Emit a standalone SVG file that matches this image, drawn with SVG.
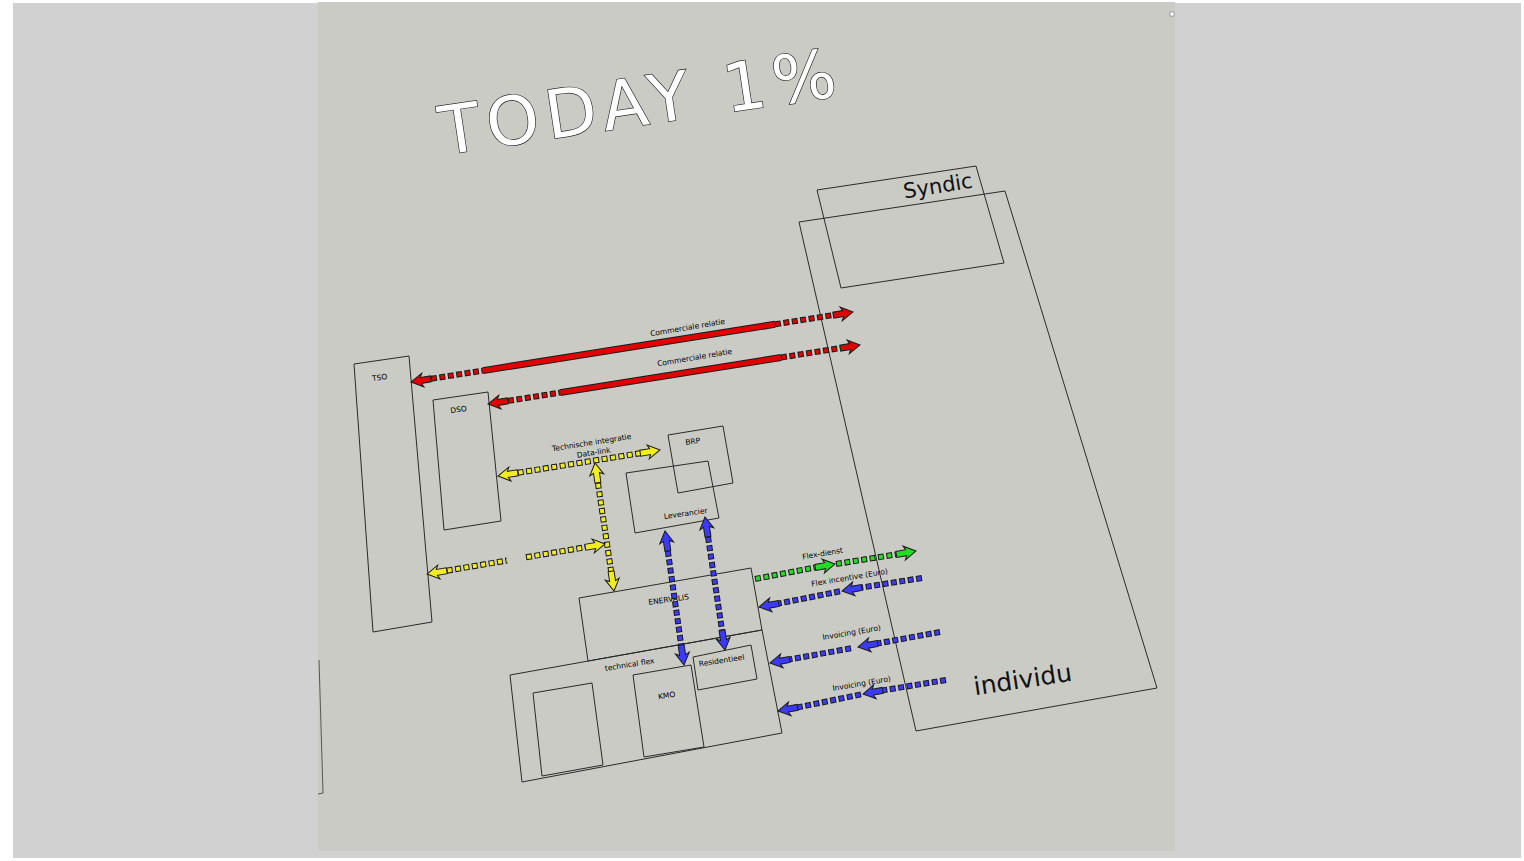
<svg xmlns="http://www.w3.org/2000/svg" xmlns:xlink="http://www.w3.org/1999/xlink" width="1524" height="861" viewBox="0 0 1524 861">
<style>
.box{fill:none;stroke:#2a2a2a;stroke-width:1}
.s{font-family:"DejaVu Sans",sans-serif;font-size:7.5px;fill:#000;text-anchor:middle}
.dk{stroke:#1a1a1a;stroke-width:6;stroke-dasharray:6 2.5;fill:none}
.dr{stroke:#e00000;stroke-width:4;stroke-dasharray:4 4.5;stroke-dashoffset:-1;fill:none}
.dy{stroke:#f2ee1e;stroke-width:4;stroke-dasharray:4 4.5;stroke-dashoffset:-1;fill:none}
.db{stroke:#3b3bff;stroke-width:4;stroke-dasharray:4 4.5;stroke-dashoffset:-1;fill:none}
.dg{stroke:#22dd22;stroke-width:4;stroke-dasharray:4 4.5;stroke-dashoffset:-1;fill:none}
.sk{stroke:#1a1a1a;stroke-width:7;fill:none}
.sr{stroke:#e00000;stroke-width:5;fill:none}
.hr{fill:#e00000;stroke:#1a1a1a;stroke-width:1}
.hy{fill:#f2ee1e;stroke:#1a1a1a;stroke-width:1}
.hb{fill:#3b3bff;stroke:#1a1a1a;stroke-width:1}
.hg{fill:#22dd22;stroke:#1a1a1a;stroke-width:1}
</style>
<defs>
<path id="head" d="M0,0 L-12,-7 L-10,-3 L-20,-3 L-20,3 L-10,3 L-12,7 Z"/>
</defs>
<rect width="1524" height="861" fill="#ffffff"/>
<rect x="13" y="3" width="1508" height="855" fill="#d1d1d1"/>
<rect x="318" y="2" width="857" height="849" fill="#cbcbc6"/>
<polyline points="319,660 323,793 318,794" fill="none" stroke="#555" stroke-width="1"/>
<rect x="1170" y="12" width="4" height="4" fill="#fff" stroke="#777" stroke-width="0.6"/>

<g id="title">
<text transform="translate(443,155) rotate(-8.5)" font-family="DejaVu Sans, sans-serif" font-size="67" fill="#ffffff" stroke="#222" stroke-width="1.3" paint-order="stroke" textLength="400" lengthAdjust="spacing">TODAY 1%</text>
</g>

<g id="individu"><polygon class="box" points="799,222 1005,191 1157,688 916,731"/>
<text transform="translate(1024,688) rotate(-8.5)" font-family="DejaVu Sans, sans-serif" font-size="25" fill="#111" text-anchor="middle">individu</text></g>
<g id="syndic"><polygon class="box" points="817,190 976,166 1004,263 841,288"/>
<text transform="translate(939,193) rotate(-9)" font-family="DejaVu Sans, sans-serif" font-size="21" fill="#111" text-anchor="middle">Syndic</text></g>
<g id="tso"><polygon class="box" points="354,364 409,356 432,622 373,632"/>
<text class="s" transform="translate(380,380) rotate(-8)">TSO</text></g>
<g id="dso"><polygon class="box" points="433,400 488,392 501,521 444,530"/>
<text class="s" transform="translate(459,412) rotate(-8)">DSO</text></g>
<g id="brp"><polygon class="box" points="668,435 723,426 733,483 678,493"/>
<text class="s" transform="translate(693,444) rotate(-8)">BRP</text></g>
<g id="leverancier"><polygon class="box" points="626,473 708,461 719,518 635,533"/>
<text class="s" transform="translate(686,516) rotate(-8)">Leverancier</text></g>
<g id="enervalis"><polygon class="box" points="579,598 751,568 762,630 588,661"/>
<text class="s" transform="translate(669,602) rotate(-8)">ENERVALIS</text></g>
<g id="technicalflex"><polygon class="box" points="510,675 762,630 782,733 522,782"/>
<text class="s" transform="translate(630,667) rotate(-9)">technical flex</text></g>
<g id="box1"><polygon class="box" points="533,693 592,683 603,765 542,776"/></g>
<g id="kmo"><polygon class="box" points="633,675 691,665 704,747 644,757"/>
<text class="s" transform="translate(667,698) rotate(-8)">KMO</text></g>
<g id="residentieel"><polygon class="box" points="693,657 751,645 757,679 698,690"/>
<text class="s" transform="translate(722,663) rotate(-9)">Residentieel</text></g>

<g id="connectors">
<line class="dk" x1="431" y1="378.8" x2="483" y2="370.6"/><line class="dr" x1="431" y1="378.8" x2="483" y2="370.6"/>
<line class="sk" x1="483" y1="370.6" x2="775" y2="324.3"/><line class="sr" x1="483" y1="370.6" x2="775" y2="324.3"/>
<line class="dk" x1="775" y1="324.3" x2="833" y2="315.1"/><line class="dr" x1="775" y1="324.3" x2="833" y2="315.1"/>
<use xlink:href="#head" class="hr" transform="translate(411,382) rotate(171)"/>
<use xlink:href="#head" class="hr" transform="translate(853,312) rotate(-9)"/>
<text class="s" transform="translate(688,330) rotate(-9.5)">Commerciale relatie</text>
<line class="dk" x1="508" y1="400.9" x2="560" y2="392.6"/><line class="dr" x1="508" y1="400.9" x2="560" y2="392.6"/>
<line class="sk" x1="560" y1="392.6" x2="781" y2="357.5"/><line class="sr" x1="560" y1="392.6" x2="781" y2="357.5"/>
<line class="dk" x1="781" y1="357.5" x2="840" y2="348.1"/><line class="dr" x1="781" y1="357.5" x2="840" y2="348.1"/>
<use xlink:href="#head" class="hr" transform="translate(488,404) rotate(171)"/>
<use xlink:href="#head" class="hr" transform="translate(860,345) rotate(-9)"/>
<text class="s" transform="translate(695,360) rotate(-9.5)">Commerciale relatie</text>
<line class="dk" x1="517.7" y1="472.8" x2="640.3" y2="453.2"/><line class="dy" x1="517.7" y1="472.8" x2="640.3" y2="453.2"/>
<use xlink:href="#head" class="hy" transform="translate(498,476) rotate(170.9)"/>
<use xlink:href="#head" class="hy" transform="translate(660,450) rotate(-9.1)"/>
<text class="s" font-size="7" transform="translate(592,445) rotate(-9)">Technische integratie</text>
<text class="s" font-size="7" transform="translate(594,455) rotate(-9)">Data-link</text>
<line class="dk" x1="597.9" y1="482.8" x2="611.1" y2="571.2"/><line class="dy" x1="597.9" y1="482.8" x2="611.1" y2="571.2"/>
<use xlink:href="#head" class="hy" transform="translate(595,463) rotate(261.6)"/>
<use xlink:href="#head" class="hy" transform="translate(614,591) rotate(81.6)"/>
<line class="dk" x1="446.7" y1="570.7" x2="507" y2="560.5"/><line class="dy" x1="446.7" y1="570.7" x2="507" y2="560.5"/>
<line class="dk" x1="526" y1="557.3" x2="585.3" y2="547.3"/><line class="dy" x1="526" y1="557.3" x2="585.3" y2="547.3"/>
<use xlink:href="#head" class="hy" transform="translate(427,574) rotate(170.4)"/>
<use xlink:href="#head" class="hy" transform="translate(605,544) rotate(-9.6)"/>
<line class="dk" x1="667.8" y1="550.8" x2="681.2" y2="645.2"/><line class="db" x1="667.8" y1="550.8" x2="681.2" y2="645.2"/>
<use xlink:href="#head" class="hb" transform="translate(665,531) rotate(261.9)"/>
<use xlink:href="#head" class="hb" transform="translate(684,665) rotate(81.9)"/>
<line class="dk" x1="708" y1="536.8" x2="722" y2="630.2"/><line class="db" x1="708" y1="536.8" x2="722" y2="630.2"/>
<use xlink:href="#head" class="hb" transform="translate(705,517) rotate(261.4)"/>
<use xlink:href="#head" class="hb" transform="translate(725,650) rotate(81.4)"/>
<line class="dk" x1="755" y1="579" x2="815.3" y2="567.4"/><line class="dg" x1="755" y1="579" x2="815.3" y2="567.4"/>
<line class="dk" x1="836" y1="564" x2="896.3" y2="554.4"/><line class="dg" x1="836" y1="564" x2="896.3" y2="554.4"/>
<use xlink:href="#head" class="hg" transform="translate(835,564) rotate(-9.9)"/>
<use xlink:href="#head" class="hg" transform="translate(916,551) rotate(-9.9)"/>
<text class="s" transform="translate(823,556) rotate(-9.5)">Flex-dienst</text>
<line class="dk" x1="922" y1="578" x2="861.7" y2="587.5"/><line class="db" x1="922" y1="578" x2="861.7" y2="587.5"/>
<line class="dk" x1="840" y1="591.3" x2="778.7" y2="603.5"/><line class="db" x1="840" y1="591.3" x2="778.7" y2="603.5"/>
<use xlink:href="#head" class="hb" transform="translate(842,591) rotate(169.9)"/>
<use xlink:href="#head" class="hb" transform="translate(759,607) rotate(169.9)"/>
<text class="s" transform="translate(850,580) rotate(-9.5)">Flex incentive (Euro)</text>
<line class="dk" x1="940" y1="632" x2="877.7" y2="643.4"/><line class="db" x1="940" y1="632" x2="877.7" y2="643.4"/>
<line class="dk" x1="851" y1="648.3" x2="789.7" y2="659.4"/><line class="db" x1="851" y1="648.3" x2="789.7" y2="659.4"/>
<use xlink:href="#head" class="hb" transform="translate(858,647) rotate(169.7)"/>
<use xlink:href="#head" class="hb" transform="translate(770,663) rotate(169.7)"/>
<text class="s" transform="translate(852,635) rotate(-9.5)">Invoicing (Euro)</text>
<line class="dk" x1="946" y1="680" x2="882.7" y2="690.4"/><line class="db" x1="946" y1="680" x2="882.7" y2="690.4"/>
<line class="dk" x1="861" y1="694.4" x2="797.7" y2="707.4"/><line class="db" x1="861" y1="694.4" x2="797.7" y2="707.4"/>
<use xlink:href="#head" class="hb" transform="translate(863,694) rotate(169.5)"/>
<use xlink:href="#head" class="hb" transform="translate(778,711) rotate(169.5)"/>
<text class="s" transform="translate(862,686) rotate(-9.5)">Invoicing (Euro)</text>
</g>
</svg>
